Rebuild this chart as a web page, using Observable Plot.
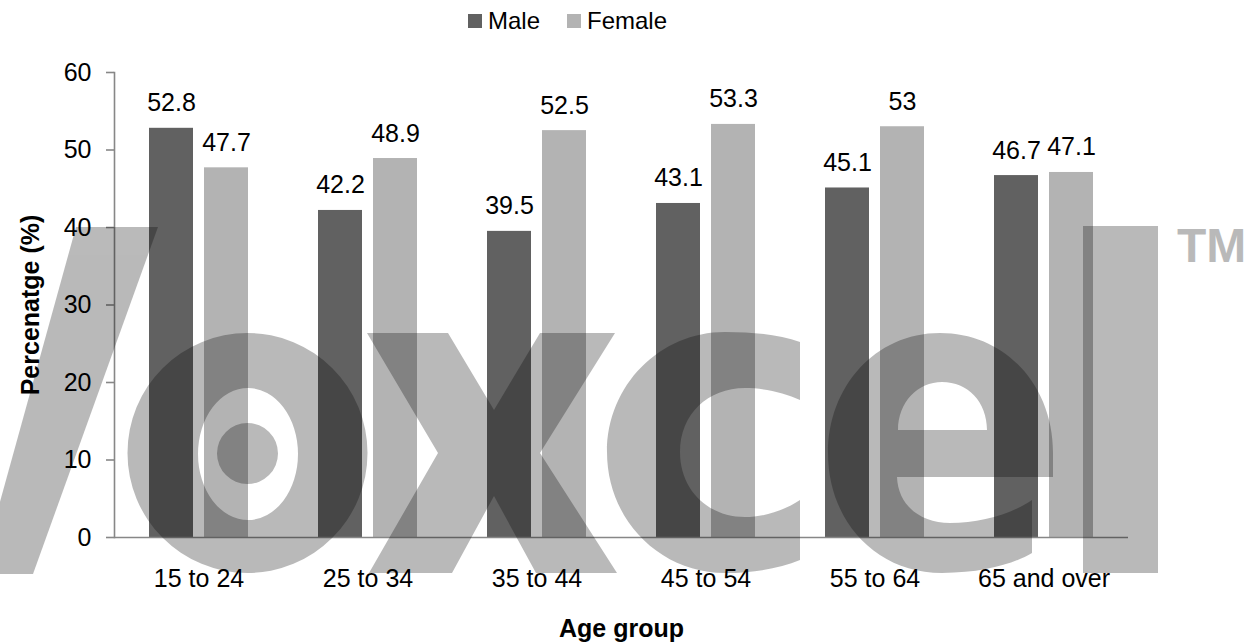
<!DOCTYPE html>
<html>
<head>
<meta charset="utf-8">
<script src="https://cdn.jsdelivr.net/npm/d3@7"></script>
<script src="https://cdn.jsdelivr.net/npm/@observablehq/plot@0.6"></script>
<style>
  html, body { margin: 0; padding: 0; background: #fff; }
  #wrap { position: relative; width: 1256px; height: 643px; overflow: hidden; font-family: "Liberation Sans", Arial, sans-serif; }
  #legend { position: relative; width: 1256px; height: 44px; }
  .sw { position: absolute; top: 14px; width: 14px; height: 14px; }
  .lt { position: absolute; top: 7px; font-size: 24px; line-height: 28px; color: #000; }
  #watermark { position: absolute; left: 0; top: 0; pointer-events: none; }
</style>
</head>
<body>
<div id="wrap">
  <div id="legend"></div>
  <div id="chart"></div>
</div>
<script>
// ---- data ----
const ageGroups = ["15 to 24", "25 to 34", "35 to 44", "45 to 54", "55 to 64", "65 and over"];
const sexes = ["Male", "Female"];
const maleValues = [52.8, 42.2, 39.5, 43.1, 45.1, 46.7];
const femaleValues = [47.7, 48.9, 52.5, 53.3, 53, 47.1];
const yTicks = [0, 10, 20, 30, 40, 50, 60];
const seriesColors = ["#616161", "#b3b3b3"];
const xTitle = "Age group";
const yTitle = "Percenatge (%)";

const rows = ageGroups.flatMap((g, i) => [
  {age: g, sex: "Male", value: maleValues[i]},
  {age: g, sex: "Female", value: femaleValues[i]}
]);

// ---- legend (above the svg) ----
const legend = document.getElementById("legend");
const legendPos = [{sw: 468, tx: 488}, {sw: 567, tx: 587}];
sexes.forEach((s, i) => {
  const sw = document.createElement("div");
  sw.className = "sw";
  sw.style.left = legendPos[i].sw + "px";
  sw.style.background = seriesColors[i];
  legend.appendChild(sw);
  const t = document.createElement("div");
  t.className = "lt";
  t.style.left = legendPos[i].tx + "px";
  t.textContent = s;
  legend.appendChild(t);
});

const axisGray = "#878787";
const font = "'Liberation Sans', Arial, sans-serif";

const chart = Plot.plot({
  width: 1256,
  height: 599,
  marginLeft: 112,
  marginRight: 126,
  marginTop: 28,
  marginBottom: 106,
  style: {fontFamily: font, fontSize: "25px", color: "#000", background: "transparent", overflow: "visible"},
  fx: {domain: ageGroups, padding: 0, label: null, axis: null},
  x: {domain: sexes, paddingInner: 0.196, paddingOuter: 0.607, axis: null},
  y: {domain: [0, 60], axis: null},
  color: {domain: sexes, range: seriesColors},
  marks: [
    Plot.barY(rows, {fx: "age", x: "sex", y: "value", fill: "sex"}),
    Plot.text(rows, {fx: "age", x: "sex", y: "value", text: d => String(d.value), lineAnchor: "bottom", dy: -17, fontSize: 25, fill: "#000"}),
    Plot.ruleY([0], {stroke: axisGray, strokeWidth: 1.6}),
    Plot.frame({anchor: "left", facet: "super", stroke: axisGray, strokeWidth: 1.6}),
    Plot.axisY({ticks: yTicks, tickSize: 8, tickPadding: 15, stroke: axisGray, strokeWidth: 1.6, fill: "#000", fontSize: 25, label: null}),
    Plot.axisFx({anchor: "bottom", tickSize: 0, tickPadding: 32, fontSize: 25, fill: "#000", label: null}),
    Plot.text([yTitle], {facet: "super", frameAnchor: "left", text: d => d, rotate: -90, dx: -84, lineAnchor: "middle", textAnchor: "middle", fontWeight: "bold", fontSize: 25, fill: "#000"}),
    Plot.text([xTitle], {facet: "super", frameAnchor: "bottom", text: d => d, dy: 99, lineAnchor: "bottom", textAnchor: "middle", fontWeight: "bold", fontSize: 25, fill: "#000"})
  ]
});
document.getElementById("chart").appendChild(chart);

// ---- watermark overlay (decoration, not data) ----
const NS = "http://www.w3.org/2000/svg";
const wm = document.createElementNS(NS, "svg");
wm.setAttribute("id", "watermark");
wm.setAttribute("width", 1256);
wm.setAttribute("height", 643);
const g = document.createElementNS(NS, "g");
g.setAttribute("fill", "#000");
g.setAttribute("opacity", "0.27");
const wmPaths = [
  "M76,227 L158,227 L33,574 L-20,574 Z",
  "M127.5,453 A120,120 0 1 0 367.5,453 A120,120 0 1 0 127.5,453 Z M198,454 A50,66 0 1 0 298,454 A50,66 0 1 0 198,454 Z M217,453.5 A30.5,30.5 0 1 0 278,453.5 A30.5,30.5 0 1 0 217,453.5 Z",
  "M367,333 L448,333 L494,410 L540,333 L615,333 L540,453 L617,573 L536,573 L494,496 L452,573 L369,573 L438,453 Z",
  "M800,342 C780,335 755,332 725,332 C660,332 607,385 607,452 C607,520 660,573 725,573 C755,573 780,568 800,560 L800,500 C785,510 765,517 745,517 C708,517 680,490 680,452 C680,414 708,388 745,388 C765,388 785,393 800,400 Z",
  "M1053,477 L1053,453 C1053,385 1005,333 940,333 C875,333 828,387 828,453 C828,520 875,573 942,573 C985,573 1015,563 1032,553 L1032,500 C1010,515 980,523 950,523 C920,523 898,505 897,477 Z M898,430 C898,402 918,382 942,382 C968,382 987,402 987,430 Z",
  "M1083,226 L1158,226 L1158,573 L1083,573 Z"
];
wmPaths.forEach(d => {
  const p = document.createElementNS(NS, "path");
  p.setAttribute("d", d);
  p.setAttribute("fill-rule", "evenodd");
  g.appendChild(p);
});
const tm = document.createElementNS(NS, "text");
tm.setAttribute("x", 1177);
tm.setAttribute("y", 262);
tm.setAttribute("font-family", font);
tm.setAttribute("font-weight", "bold");
tm.setAttribute("font-size", "48");
tm.textContent = "TM";
g.appendChild(tm);
wm.appendChild(g);
document.getElementById("wrap").appendChild(wm);
</script>
</body>
</html>
